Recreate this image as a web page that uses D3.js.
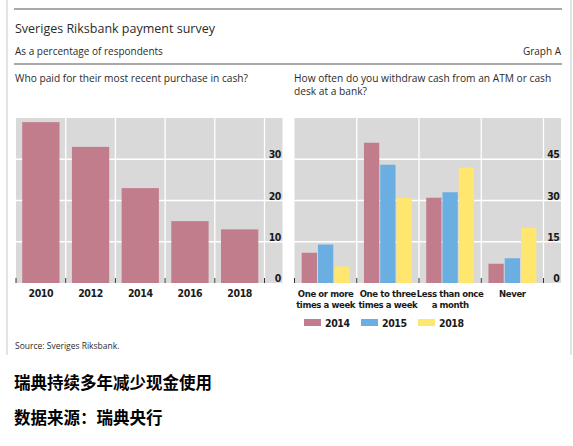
<!DOCTYPE html>
<html>
<head>
<meta charset="utf-8">
<title>Sveriges Riksbank payment survey</title>
<script src="https://d3js.org/d3.v7.min.js"></script>
<style>
  body { margin: 0; background: #fff; }
  .hdr { font-family: "Open Sans", "DejaVu Sans", sans-serif; fill: #2b2b2b; }
  .lbl { font-family: "DejaVu Sans Condensed", "DejaVu Sans", sans-serif; font-stretch: condensed; font-weight: bold; fill: #1a1a1a; letter-spacing: -0.4px; }
  .cn { font-family: "Noto Sans CJK SC", sans-serif; font-weight: bold; fill: #000; }
</style>
</head>
<body>

<div id="chart"></div>

<script>
  // left panel: who paid cash for the most recent purchase
  const years = ["2010", "2012", "2014", "2016", "2018"];
  const cashShare = [39, 33, 23, 15, 13];
  const leftTicks = [0, 10, 20, 30];

  // right panel: ATM / bank withdrawal frequency
  const freqCats = [
    ["One or more", "times a week"],
    ["One to three", "times a week"],
    ["Less than once", "a month"],
    ["Never"]
  ];
  const surveyYears = ["2014", "2015", "2018"];
  const freq2014 = [11, 51, 31, 7];
  const freq2015 = [14, 43, 33, 9];
  const freq2018 = [6, 31, 42, 20];
  const rightTicks = [0, 15, 30, 45];

  const colors = { "2014": "#c27d8c", "2015": "#6aaee2", "2018": "#ffe66e" };

  const W = 573, H = 446;
  const svg = d3.select("#chart").append("svg")
    .attr("width", W)
    .attr("height", H);

  // frame
  svg.append("line").attr("x1", 7).attr("x2", 7).attr("y1", 0).attr("y2", 355)
    .attr("stroke", "#c8c8c8");
  svg.append("line").attr("x1", 571).attr("x2", 571).attr("y1", 0).attr("y2", 355)
    .attr("stroke", "#c8c8c8");

  // header rules
  [9, 64].forEach(y => {
    svg.append("line").attr("x1", 14).attr("x2", 562).attr("y1", y).attr("y2", y)
      .attr("stroke", "#555").attr("stroke-width", 1.2);
  });

  svg.append("text").attr("class", "hdr").attr("x", 15).attr("y", 33)
    .style("font-size", "12.5px").text("Sveriges Riksbank payment survey");
  svg.append("text").attr("class", "hdr").attr("x", 15).attr("y", 55)
    .style("font-size", "10px").text("As a percentage of respondents");
  svg.append("text").attr("class", "hdr").attr("x", 561).attr("y", 55)
    .attr("text-anchor", "end")
    .style("font-size", "10px").text("Graph A");

  svg.append("text").attr("class", "hdr").attr("x", 15).attr("y", 82)
    .style("font-size", "10.2px").text("Who paid for their most recent purchase in cash?");
  const rt = svg.append("text").attr("class", "hdr").attr("x", 294).attr("y", 82)
    .style("font-size", "10.2px");
  rt.append("tspan").attr("x", 294).text("How often do you withdraw cash from an ATM or cash");
  rt.append("tspan").attr("x", 294).attr("dy", 13).text("desk at a bank?");

  const plotTop = 118, base = 283;

  // right edge of each band (gridline / tick position)
  const bandEdge = (x, d) => x(d) - x.step() * x.paddingInner() / 2 + x.step();

  // grey plot area, grid and y labels
  function drawFrame(x, y, ticks, bgLeft, bgRight) {
    const g = svg.append("g");
    g.append("rect")
      .attr("x", bgLeft).attr("y", plotTop)
      .attr("width", bgRight - bgLeft).attr("height", base - plotTop)
      .attr("fill", "#d9d9d9");

    g.selectAll(".hg").data(ticks.filter(d => d > 0))
      .enter().append("line")
      .attr("x1", bgLeft).attr("x2", bgRight)
      .attr("y1", d => y(d)).attr("y2", d => y(d))
      .attr("stroke", "#fff").attr("stroke-width", 1.3);

    g.selectAll(".vg").data(x.domain())
      .enter().append("line")
      .attr("x1", d => bandEdge(x, d))
      .attr("x2", d => bandEdge(x, d))
      .attr("y1", plotTop).attr("y2", base)
      .attr("stroke", "#fff").attr("stroke-width", 1.3);

    // y labels sit inside the grey area on the right
    g.selectAll(".yl").data(ticks)
      .enter().append("text")
      .attr("class", "lbl")
      .attr("x", bgRight - 1.5)
      .attr("y", d => y(d) - 1)
      .attr("text-anchor", "end")
      .style("font-size", "10.5px")
      .text(d => d);
  }

  function drawTicks(x) {
    const edges = [x.range()[0]].concat(x.domain().map(d => bandEdge(x, d)));
    svg.append("g").selectAll("line").data(edges)
      .enter().append("line")
      .attr("x1", d => d).attr("x2", d => d)
      .attr("y1", base - 5).attr("y2", base)
      .attr("stroke", "#333").attr("stroke-width", 1);
  }

  // ---------- left panel ----------
  const xL = d3.scaleBand().domain(years).range([16, 264.5]).paddingInner(0.25).paddingOuter(0.125);
  const yL = d3.scaleLinear().domain([0, 40]).range([base, plotTop]);

  drawFrame(xL, yL, leftTicks, 16, 282.5);

  svg.append("g").selectAll("rect")
    .data(years.map((d, i) => ({ year: d, value: cashShare[i] })))
    .enter().append("rect")
    .attr("x", d => xL(d.year))
    .attr("width", xL.bandwidth())
    .attr("y", d => yL(d.value))
    .attr("height", d => base - yL(d.value))
    .attr("fill", colors["2014"]);

  drawTicks(xL);

  svg.append("g").selectAll("text")
    .data(years).enter().append("text")
    .attr("class", "lbl")
    .attr("x", d => xL(d) + xL.bandwidth() / 2)
    .attr("y", 297)
    .attr("text-anchor", "middle")
    .style("font-size", "10.5px")
    .text(d => d);

  // ---------- right panel ----------
  const catKeys = freqCats.map(d => d.join(" "));
  const xR = d3.scaleBand().domain(catKeys).range([294.5, 543.5]).paddingInner(0.2).paddingOuter(0.1);
  const yR = d3.scaleLinear().domain([0, 60]).range([base, plotTop]);
  const xSub = d3.scaleBand().domain(surveyYears).range([0, xR.bandwidth()]).padding(0.06);

  drawFrame(xR, yR, rightTicks, 294.5, 561);

  const series = { "2014": freq2014, "2015": freq2015, "2018": freq2018 };
  const rows = [];
  catKeys.forEach((c, i) => surveyYears.forEach(s => rows.push({ cat: c, year: s, value: series[s][i] })));

  svg.append("g").selectAll("rect")
    .data(rows).enter().append("rect")
    .attr("x", d => xR(d.cat) + xSub(d.year))
    .attr("width", xSub.bandwidth())
    .attr("y", d => yR(d.value))
    .attr("height", d => base - yR(d.value))
    .attr("fill", d => colors[d.year]);

  drawTicks(xR);

  const catLbl = svg.append("g").selectAll("text")
    .data(freqCats).enter().append("text")
    .attr("class", "lbl")
    .attr("x", (d, i) => xR(catKeys[i]) + xR.bandwidth() / 2)
    .attr("y", 297)
    .attr("text-anchor", "middle")
    .style("font-size", "9.5px");
  catLbl.selectAll("tspan").data(d => d).enter().append("tspan")
    .attr("x", function () { return d3.select(this.parentNode).attr("x"); })
    .attr("dy", (d, i) => i === 0 ? 0 : 10.5)
    .text(d => d);

  // legend
  const legend = svg.append("g").attr("transform", "translate(304, 319)");
  surveyYears.forEach((s, i) => {
    legend.append("rect").attr("x", i * 57).attr("y", 0)
      .attr("width", 17).attr("height", 7).attr("fill", colors[s]);
    legend.append("text").attr("class", "lbl")
      .attr("x", i * 57 + 21).attr("y", 8)
      .style("font-size", "10.5px").text(s);
  });

  // source
  svg.append("text").attr("class", "hdr").attr("x", 15).attr("y", 349)
    .style("font-size", "8.5px").text("Source: Sveriges Riksbank.");

  // caption in Chinese
  svg.append("text").attr("class", "cn").attr("x", 14).attr("y", 389)
    .style("font-size", "16.5px").text("瑞典持续多年减少现金使用");
  svg.append("text").attr("class", "cn").attr("x", 14).attr("y", 424)
    .style("font-size", "16.5px").text("数据来源：瑞典央行");
</script>

</body>
</html>
